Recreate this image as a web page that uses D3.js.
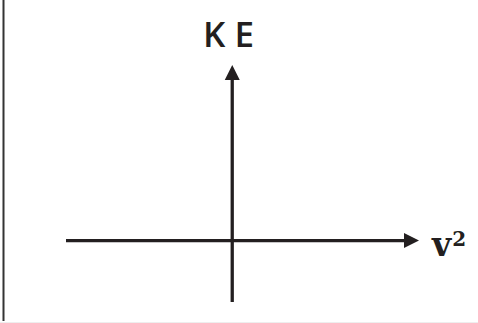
<!DOCTYPE html>
<html>
<head>
<meta charset="utf-8">
<script src="https://cdn.jsdelivr.net/npm/d3@7"></script>
<style>
  html, body { margin: 0; padding: 0; background: #fff; }
  svg { display: block; }
</style>
</head>
<body>
<svg id="chart" width="478" height="323"></svg>
<script>
// Axis extents (in data units): negative side, positive side (arrow tip)
const xDomain = [-8.9, 10];
const yDomain = [-3.5, 10];
const axisLabels = ["KE", "v"];
const xSuperscript = ["2"];

const W = 478, H = 323;
const svg = d3.select("#chart");

const x = d3.scaleLinear().domain(xDomain).range([66, 419]);
const y = d3.scaleLinear().domain(yDomain).range([302, 65]);

// frame: left border and faint bottom edge
svg.append("line").attr("x1", 3.5).attr("x2", 3.5).attr("y1", 0).attr("y2", 321)
  .attr("stroke", "#333").attr("stroke-width", 2);
svg.append("line").attr("x1", 0).attr("x2", W).attr("y1", 322.5).attr("y2", 322.5)
  .attr("stroke", "#eeeeee").attr("stroke-width", 1);

const headLen = 15, headHalf = 7.5;
const col = "#231f20";

// horizontal axis
const x0 = x(xDomain[0]), x1 = x(xDomain[1]), yO = y(0);
svg.append("line").attr("x1", x0).attr("x2", x1 - headLen + 1).attr("y1", yO).attr("y2", yO)
  .attr("stroke", col).attr("stroke-width", 3.3);
svg.append("path")
  .attr("d", `M${x1},${yO} L${x1 - headLen},${yO - headHalf} L${x1 - headLen},${yO + headHalf} Z`)
  .attr("fill", col);

// vertical axis
const xO = x(0), yb = y(yDomain[0]), yt = y(yDomain[1]);
svg.append("line").attr("x1", xO).attr("x2", xO).attr("y1", yb).attr("y2", yt + headLen - 1)
  .attr("stroke", col).attr("stroke-width", 3.3);
svg.append("path")
  .attr("d", `M${xO},${yt} L${xO - headHalf},${yt + headLen} L${xO + headHalf},${yt + headLen} Z`)
  .attr("fill", col);

// y label
svg.append("text")
  .attr("x", 233).attr("y", 47)
  .attr("text-anchor", "middle")
  .attr("font-family", "'Open Sans', sans-serif")
  .attr("font-weight", 600)
  .attr("font-size", 35)
  .attr("letter-spacing", 9)
  .attr("fill", col)
  .text(axisLabels[0]);

// x label v²
const t = svg.append("text")
  .attr("x", 432).attr("y", 256)
  .attr("font-family", "'DejaVu Serif', serif")
  .attr("font-weight", "bold")
  .attr("fill", col);
t.append("tspan").attr("font-size", 33).text(axisLabels[1]);
t.append("tspan").attr("font-size", 20).attr("dy", -10).attr("dx", 1).text(xSuperscript[0]);
</script>
</body>
</html>
